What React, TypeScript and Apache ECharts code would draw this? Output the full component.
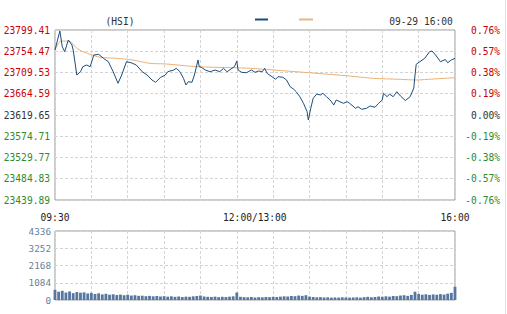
import React, { useEffect, useRef } from 'react';
import * as echarts from 'echarts';

const prevClose = 23619.65;
const priceTicks = [23439.89, 23484.83, 23529.77, 23574.71, 23619.65, 23664.59, 23709.53, 23754.47, 23799.41];
const pctLabels = ['-0.76%', '-0.57%', '-0.38%', '-0.19%', '0.00%', '0.19%', '0.38%', '0.57%', '0.76%'];
const volTicks = [0, 1084, 2168, 3252, 4336];
const timeLabelMinutes = [0, 150, 330];
const timeLabels = ['09:30', '12:00/13:00', '16:00'];

const priceMinutes = [0,4,6,8,11,14,15,18,21,23,26,29,32,36,40,44,48,52,55,59,63,67,72,76,80,83,87,91,93,98,100,103,106,108,110,113,115,117,118,119,121,124,128,132,136,139,142,146,148,150,151,154,158,162,165,168,171,173,175,179,182,184,188,191,194,197,199,202,205,208,209,211,213,216,219,221,224,227,230,232,235,238,241,243,248,250,253,257,260,264,267,270,271,274,276,279,282,285,289,293,296,297,298,301,305,309,311,314,318,322,324,327,330];
const prices = [23757.1,23797.3,23764.1,23753.5,23778.3,23767.7,23757.1,23704.2,23711.2,23721.8,23725.4,23721.8,23746.5,23748.0,23739.5,23732.4,23711.2,23686.7,23704.2,23732.4,23730.0,23725.4,23711.2,23704.2,23693.7,23688.8,23699.0,23704.2,23711.2,23714.8,23718.4,23711.2,23697.3,23683.1,23690.1,23688.8,23704.2,23725.4,23736.0,23721.8,23720.0,23714.8,23711.2,23714.8,23711.2,23718.4,23711.2,23718.4,23721.8,23733.8,23714.8,23709.9,23709.1,23714.8,23709.9,23712.7,23711.2,23718.4,23707.8,23700.6,23695.1,23700.6,23699.4,23693.7,23679.5,23674.0,23668.9,23658.3,23644.4,23626.6,23609.1,23633.8,23655.0,23664.0,23661.9,23665.5,23658.3,23651.4,23640.8,23651.4,23647.8,23644.4,23647.8,23644.4,23633.8,23637.2,23631.7,23633.8,23638.7,23636.0,23644.4,23651.4,23665.5,23658.3,23664.0,23658.3,23668.9,23659.8,23650.3,23658.3,23676.7,23704.2,23726.9,23732.4,23739.5,23753.5,23755.0,23746.5,23732.4,23737.0,23730.2,23736.0,23739.5];

const maMinutes = [0, 5, 12, 18, 23, 31, 37, 51, 64, 78, 92, 117, 147, 161, 188, 216, 243, 262, 285, 298, 312, 330];
const maValues = [23757.1, 23776.0, 23775.3, 23760.7, 23753.5, 23746.5, 23741.7, 23739.5, 23736.0, 23729.0, 23727.5, 23721.8, 23719.7, 23718.4, 23713.3, 23707.8, 23702.1, 23697.3, 23695.1, 23693.7, 23695.8, 23698.5];

// volume every 3 minutes from 09:30
const volumes = [
  640, 520, 580, 470, 540, 430, 500, 460, 480, 410, 450,
  380, 420, 350, 390, 330, 360, 310, 340, 300, 330,
  280, 300, 260, 270, 240, 260, 230, 250, 220, 240,
  210, 230, 200, 220, 190, 210, 200, 230, 250, 280,
  220, 200, 190, 210, 180, 200, 190, 210, 230, 470,
  200, 180, 170, 190, 160, 180, 170, 190, 180, 200,
  190, 210, 230, 220, 250, 240, 280, 260, 300, 210,
  190, 170, 180, 160, 170, 150, 160, 150, 170, 160,
  150, 160, 170, 150, 180, 200, 170, 190, 220, 200,
  230, 210, 250, 240, 280, 300, 260, 320, 520, 380,
  330, 360, 320, 350, 330, 370, 340, 400, 450, 830,
];
const volStep = 3;

const FONT = 'DejaVu Sans Mono';
const FS = 9.6;

export default function App() {
  const ref = useRef<HTMLDivElement>(null);
  useEffect(() => {
    if (!ref.current) return;
    const chart = echarts.init(ref.current, undefined, { renderer: 'svg' });
    const priceColor = (v: any) => {
      const n = parseFloat(v);
      if (Math.abs(n - prevClose) < 0.01) return '#333333';
      return n > prevClose ? '#cc0000' : '#2e8b2e';
    };
    const nearestIdx = (v: number) => {
      let best = 0;
      priceTicks.forEach((t, i) => { if (Math.abs(t - v) < Math.abs(priceTicks[best] - v)) best = i; });
      return best;
    };
    const splitLine = { show: true, lineStyle: { color: '#d4d4d4', type: [3, 2] as any, width: 1 } };
    const option: any = {
      animation: false,
      backgroundColor: '#ffffff',
      textStyle: { fontFamily: FONT },
      grid: [
        { left: 55, top: 30, width: 400, height: 170, show: true, borderColor: '#999999', borderWidth: 1, backgroundColor: 'transparent' },
        { left: 55, top: 231, width: 400, height: 69, show: true, borderColor: '#999999', borderWidth: 1, backgroundColor: 'transparent' },
      ],
      xAxis: [
        {
          type: 'value', gridIndex: 0, min: 0, max: 330, interval: 30,
          axisLine: { show: false }, axisTick: { show: false }, splitLine,
          axisLabel: {
            show: true, margin: 12, color: '#222', fontFamily: FONT, fontSize: FS,
            showMinLabel: true, showMaxLabel: true,
            formatter: (v: number) => {
              const i = timeLabelMinutes.indexOf(Math.round(v));
              if (i < 0) return '';
              if (i === 1) return '{m|' + timeLabels[i] + '}';
              return timeLabels[i];
            },
            rich: { m: { padding: [0, 0, 0, 36], fontFamily: FONT, fontSize: FS, color: '#222' } },
          },
        },
        {
          type: 'value', gridIndex: 1, min: 0, max: 330, interval: 30,
          axisLine: { show: false }, axisTick: { show: false }, axisLabel: { show: false }, splitLine,
        },
      ],
      yAxis: [
        {
          type: 'value', gridIndex: 0, min: priceTicks[0], max: priceTicks[priceTicks.length - 1],
          axisLine: { show: false },
          axisTick: { show: false, customValues: priceTicks },
          splitLine,
          axisLabel: {
            customValues: priceTicks, margin: 5, fontFamily: FONT, fontSize: FS,
            color: priceColor,
            formatter: (v: number) => priceTicks[nearestIdx(v)].toFixed(2),
          },
        },
        {
          type: 'value', gridIndex: 0, position: 'right', min: priceTicks[0], max: priceTicks[priceTicks.length - 1],
          axisLine: { show: false },
          axisTick: { show: false, customValues: priceTicks },
          splitLine: { show: false },
          axisLabel: {
            customValues: priceTicks, margin: 45, align: 'right', fontFamily: FONT, fontSize: FS,
            color: priceColor,
            formatter: (v: number) => pctLabels[nearestIdx(v)],
          },
        },
        {
          type: 'value', gridIndex: 1, min: 0, max: volTicks[volTicks.length - 1], interval: 1084,
          axisLine: { show: false }, axisTick: { show: false }, splitLine,
          axisLabel: {
            margin: 4, fontFamily: FONT, fontSize: FS - 0.3, color: '#6b7f99',
            formatter: (v: number) => String(Math.round(v)),
          },
        },
      ],
      graphic: [
        { type: 'text', x: 120, y: 21, style: { text: '(HSI)', font: `${FS}px "${FONT}"`, fill: '#333', align: 'center', verticalAlign: 'middle' } },
        { type: 'text', x: 421, y: 21, style: { text: '09-29 16:00', font: `${FS}px "${FONT}"`, fill: '#333', align: 'center', verticalAlign: 'middle' } },
        { type: 'line', shape: { x1: 255, y1: 19.5, x2: 268, y2: 19.5 }, style: { stroke: '#1d4d7a', lineWidth: 2 } },
        { type: 'line', shape: { x1: 299, y1: 19.5, x2: 313, y2: 19.5 }, style: { stroke: '#eab585', lineWidth: 2 } },
        { type: 'line', shape: { x1: 505.5, y1: 0, x2: 505.5, y2: 314 }, style: { stroke: '#e2e2e2', lineWidth: 1 } },
      ],
      series: [
        {
          name: 'HSI', type: 'line', xAxisIndex: 0, yAxisIndex: 0, showSymbol: false, symbol: 'none',
          lineStyle: { color: '#1d4d7a', width: 1 },
          data: priceMinutes.map((m, i) => [m, prices[i]]),
          z: 3,
        },
        {
          name: 'MA', type: 'line', xAxisIndex: 0, yAxisIndex: 0, showSymbol: false, symbol: 'none', smooth: 0.3,
          lineStyle: { color: '#eeb074', width: 1 },
          data: maMinutes.map((m, i) => [m, maValues[i]]),
          z: 2,
        },
        {
          name: 'Volume', type: 'bar', xAxisIndex: 1, yAxisIndex: 2, barWidth: 2.8,
          itemStyle: { color: '#56779f' },
          data: volumes.map((v, i) => [i * volStep, v]),
        },
      ],
    };
    chart.setOption(option);
    return () => chart.dispose();
  }, []);
  return <div ref={ref} style={{ position: 'fixed', left: 0, top: 0, width: 507, height: 314 }} />;
}
